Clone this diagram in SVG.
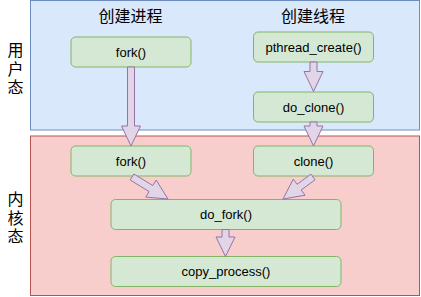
<svg xmlns="http://www.w3.org/2000/svg" width="421" height="297" viewBox="0 0 421 297">
<style>
.zone-u{fill:#dae8fc;stroke:#6c8ebf;stroke-width:1}
.zone-k{fill:#f8cecc;stroke:#b85450;stroke-width:1}
.node{fill:#d5e8d4;stroke:#82b366;stroke-width:1}
.arrow{fill:#e1d5e7;stroke:#9673a6;stroke-width:1;stroke-linejoin:miter}
.t{font-family:"Liberation Sans",Arial,sans-serif;font-size:13px;fill:#000;text-anchor:middle}
.cj{font-family:"Liberation Sans","Noto Sans CJK SC",sans-serif;font-size:16px;fill:#000;text-anchor:middle}
</style>
<rect width="421" height="297" fill="#ffffff"/>
<g id="zone-user">
<rect class="zone-u" x="30.5" y="0.5" width="389" height="129.5"/>
<text class="cj" x="130.5" y="22">创建进程</text>
<text class="cj" x="313" y="22">创建线程</text>
<text class="cj" x="15.5" y="56">用</text>
<text class="cj" x="15.5" y="74.5">户</text>
<text class="cj" x="15.5" y="93">态</text>
</g>
<g id="zone-kernel">
<rect class="zone-k" x="30.5" y="136" width="389" height="159.5"/>
<text class="cj" x="15.5" y="205">内</text>
<text class="cj" x="15.5" y="223.5">核</text>
<text class="cj" x="15.5" y="242">态</text>
</g>
<g id="node-fork-user">
<rect class="node" x="71" y="37" width="120" height="30" rx="4.5"/>
<text class="t" x="131" y="56.5">fork()</text>
</g>
<g id="node-pthread-create">
<rect class="node" x="253.5" y="32" width="120" height="30" rx="4.5"/>
<text class="t" x="313.5" y="51.5">pthread_create()</text>
</g>
<g id="node-do-clone">
<rect class="node" x="253.5" y="92" width="120" height="30" rx="4.5"/>
<text class="t" x="313.5" y="111.5">do_clone()</text>
</g>
<g id="node-fork-kernel">
<rect class="node" x="71" y="146" width="120" height="30" rx="4.5"/>
<text class="t" x="131" y="165.5">fork()</text>
</g>
<g id="node-clone">
<rect class="node" x="253.5" y="146" width="120" height="30" rx="4.5"/>
<text class="t" x="313.5" y="165.5">clone()</text>
</g>
<g id="node-do-fork">
<rect class="node" x="111" y="199.5" width="230" height="30" rx="4.5"/>
<text class="t" x="226" y="219">do_fork()</text>
</g>
<g id="node-copy-process">
<rect class="node" x="111" y="256.5" width="230" height="30" rx="4.5"/>
<text class="t" x="226" y="276">copy_process()</text>
</g>
<g id="connectors">
<polygon class="arrow" points="127.5,67 127.5,126 121.5,126 131,146 140.5,126 134.5,126 134.5,67"/>
<polygon class="arrow" points="310,62 310,71.5 304,71.5 313.5,91.5 323,71.5 317,71.5 317,62"/>
<polygon class="arrow" points="310,122 310,126 304,126 313.5,146 323,126 317,126 317,122"/>
<polygon class="arrow" points="130.18,179.99 149.12,191.56 145.73,197.1 168,199 156.15,180.04 152.76,185.58 133.82,174.01"/>
<polygon class="arrow" points="310.93,174.18 297.06,184.35 293.22,179.11 283,199 305.04,195.23 301.2,189.99 315.07,179.82"/>
<polygon class="arrow" points="222,229.5 222,237 216,237 225.5,256.5 235,237 229,237 229,229.5"/>
</g>
</svg>
